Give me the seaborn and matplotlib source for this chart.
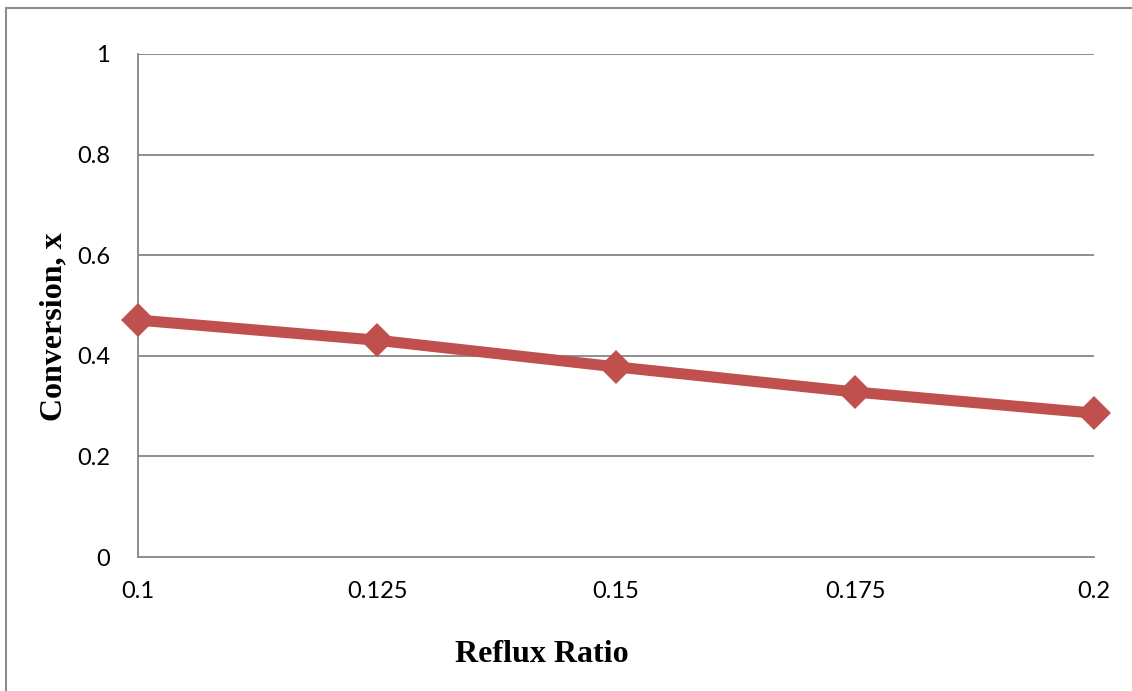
import matplotlib
matplotlib.use("Agg")
import matplotlib.pyplot as plt
import seaborn as sns
import pandas as pd
from matplotlib.patches import Rectangle

# Conversion versus reflux ratio
reflux_ratio = [0.1, 0.125, 0.15, 0.175, 0.2]
conversion = [0.471, 0.431, 0.378, 0.328, 0.286]
x_ticks = [0.1, 0.125, 0.15, 0.175, 0.2]
x_tick_labels = ["0.1", "0.125", "0.15", "0.175", "0.2"]
y_ticks = [0, 0.2, 0.4, 0.6, 0.8, 1.0]
y_tick_labels = ["0", "0.2", "0.4", "0.6", "0.8", "1"]

df = pd.DataFrame({"Reflux Ratio": reflux_ratio, "Conversion": conversion})

sns.set_theme(style="white")
plt.rcParams["font.family"] = ["Lato", "DejaVu Sans"]
plt.rcParams["text.color"] = "black"

W, H = 1132, 691
fig = plt.figure(figsize=(W / 100, H / 100), dpi=100)
ax = fig.add_axes([138 / W, 1 - 557 / H, (1094 - 138) / W, (557 - 54) / H])

grid_col = "#868686"
for yv in y_ticks[1:]:
    ax.axhline(yv, color=grid_col, lw=1.3, zorder=1)

sns.lineplot(data=df, x="Reflux Ratio", y="Conversion", ax=ax,
             color="#C0504D", lw=8, marker="D", markersize=17,
             markeredgewidth=0, zorder=3, clip_on=False)

ax.set_xlim(0.1, 0.2)
ax.set_ylim(0, 1)
ax.set_xticks(x_ticks)
ax.set_xticklabels(x_tick_labels)
ax.set_yticks(y_ticks)
ax.set_yticklabels(y_tick_labels)
ax.tick_params(axis="both", length=0, labelsize=17, colors="black")
ax.tick_params(axis="x", pad=17)
ax.tick_params(axis="y", pad=20)

for side in ["top", "right"]:
    ax.spines[side].set_visible(False)
for side in ["left", "bottom"]:
    ax.spines[side].set_color(grid_col)
    ax.spines[side].set_linewidth(1.3)

ax.set_xlabel("")
ax.set_ylabel("")
fig.text(542 / W, 1 - 655 / H, "Reflux Ratio", family="Liberation Serif",
         fontweight="bold", fontsize=23, ha="center", va="center", color="black")
fig.text(54 / W, 1 - 327 / H, "Conversion, x", family="Liberation Serif",
         fontweight="bold", fontsize=23, ha="center", va="center", rotation=90,
         color="black")

# chart frame
fig.patches.append(Rectangle((6 / W, -0.05), 1.2, 1 - 8 / H + 0.05,
                             transform=fig.transFigure, fill=False,
                             edgecolor="#8c8c8c", lw=1.5))

fig.savefig("out.png", dpi=100)
